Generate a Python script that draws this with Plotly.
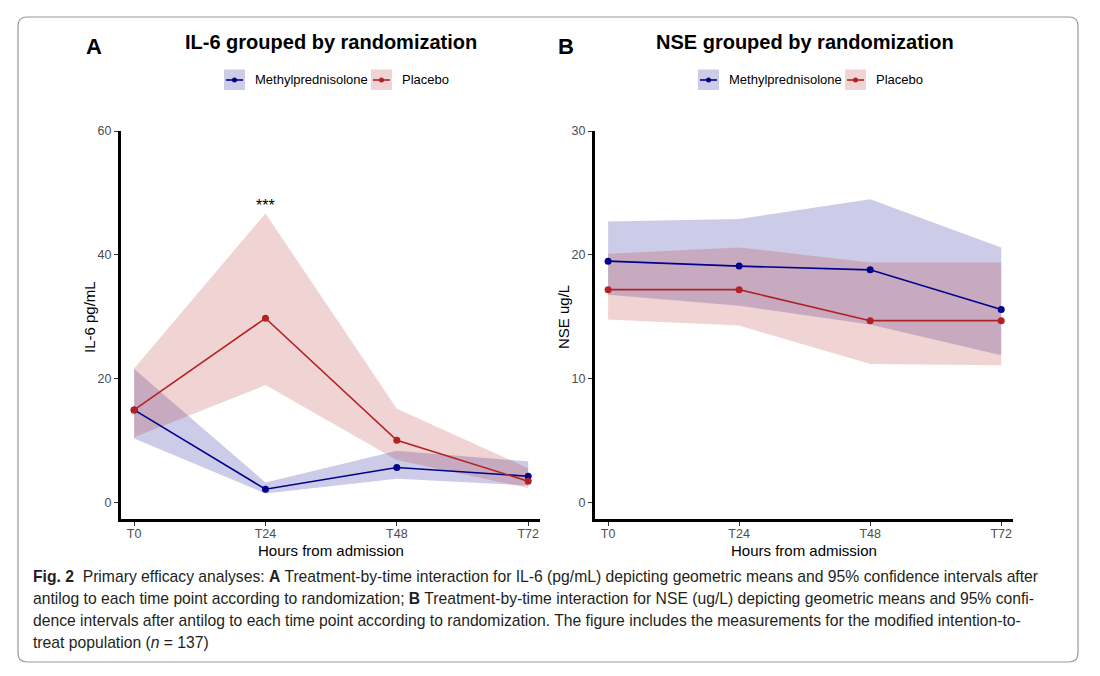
import plotly.graph_objects as go

W, H = 1100, 676

# time points
times = ["T0", "T24", "T48", "T72"]

# IL-6 (pg/mL) geometric means and 95% CI
il6_mp = [15.0, 2.2, 5.7, 4.3]
il6_mp_lo = [10.4, 1.5, 3.9, 2.8]
il6_mp_hi = [21.6, 3.3, 8.4, 6.7]
il6_pl = [15.0, 29.8, 10.1, 3.5]
il6_pl_lo = [10.6, 19.0, 6.9, 2.4]
il6_pl_hi = [21.7, 46.7, 15.2, 5.6]

# NSE (ug/L) geometric means and 95% CI
nse_mp = [19.5, 19.1, 18.8, 15.6]
nse_mp_lo = [16.8, 15.9, 14.4, 11.9]
nse_mp_hi = [22.7, 22.9, 24.5, 20.6]
nse_pl = [17.2, 17.2, 14.7, 14.7]
nse_pl_lo = [14.8, 14.3, 11.2, 11.1]
nse_pl_hi = [20.1, 20.6, 19.4, 19.4]

groups = ["Methylprednisolone", "Placebo"]
line_cols = ["#00008B", "#B22222"]
fill_cols = ["rgba(0,0,139,0.2)", "rgba(178,34,34,0.2)"]

FONT = "Liberation Sans, Arial, sans-serif"


def px(x):
    return x / W


def py(y):
    return 1 - y / H


fig = go.Figure()


def add_panel(fig, xa, ya, series):
    # ribbons first, then lines on top
    for (mean, lo, hi), fc in zip(series, fill_cols):
        fig.add_trace(go.Scatter(
            x=times + times[::-1], y=hi + lo[::-1], fill="toself",
            fillcolor=fc, line=dict(width=0), mode="lines",
            hoverinfo="skip", showlegend=False, xaxis=xa, yaxis=ya))
    for (mean, lo, hi), lc, name in zip(series, line_cols, groups):
        fig.add_trace(go.Scatter(
            x=times, y=mean, mode="lines+markers", name=name,
            line=dict(color=lc, width=1.6), marker=dict(color=lc, size=7),
            showlegend=False, xaxis=xa, yaxis=ya))


add_panel(fig, "x", "y", [(il6_mp, il6_mp_lo, il6_mp_hi), (il6_pl, il6_pl_lo, il6_pl_hi)])
add_panel(fig, "x2", "y2", [(nse_mp, nse_mp_lo, nse_mp_hi), (nse_pl, nse_pl_lo, nse_pl_hi)])

# "***" over T24 in panel A
fig.add_annotation(x="T24", y=il6_pl_hi[1], xref="x", yref="y", text="***",
                   showarrow=False, xanchor="center", yanchor="bottom", yshift=-3,
                   font=dict(family=FONT, size=16, color="black"))

axis_common = dict(showline=True, linecolor="black", linewidth=3, ticks="outside",
                   ticklen=4, tickcolor="#333333", tickwidth=1, showgrid=False,
                   zeroline=False, automargin=False,
                   tickfont=dict(family=FONT, size=12.5, color="#4D4D4D"))

panels = [
    dict(x0=121, x1=540, ytitle="IL-6 pg/mL", ytx=89, yrange=[-2.6, 60], ytick=20),
    dict(x0=595, x1=1013, ytitle="NSE ug/L", ytx=563, yrange=[-1.3, 30], ytick=10),
]
top, bottom = 131, 519

for i, p in enumerate(panels):
    sfx = "" if i == 0 else str(i + 1)
    fig.update_layout(**{
        "xaxis" + sfx: dict(axis_common, domain=[px(p["x0"]), px(p["x1"])],
                            anchor="y" + sfx, range=[-0.1, 3.09], ticklabelstandoff=-3),
        "yaxis" + sfx: dict(axis_common, domain=[py(bottom), py(top)],
                            anchor="x" + sfx, range=p["yrange"], dtick=p["ytick"]),
    })
    # axis titles
    fig.add_annotation(x=px((p["x0"] + p["x1"]) / 2), y=py(550), xref="paper", yref="paper",
                       text="Hours from admission", showarrow=False,
                       xanchor="center", yanchor="middle",
                       font=dict(family=FONT, size=15, color="black"))
    fig.add_annotation(x=px(p["ytx"]), y=py(317), xref="paper", yref="paper",
                       text=p["ytitle"], textangle=-90, showarrow=False,
                       xanchor="center", yanchor="middle",
                       font=dict(family=FONT, size=15, color="black"))

# titles, panel letters and legends
titles = [("A", 94, "IL-6 grouped by randomization", 331),
          ("B", 566, "NSE grouped by randomization", 805)]
for letter, lx, title, tx in titles:
    fig.add_annotation(x=px(lx), y=py(46), xref="paper", yref="paper", text="<b>%s</b>" % letter,
                       showarrow=False, xanchor="center", yanchor="middle",
                       font=dict(family=FONT, size=22, color="black"))
    fig.add_annotation(x=px(tx), y=py(42), xref="paper", yref="paper", text="<b>%s</b>" % title,
                       showarrow=False, xanchor="center", yanchor="middle",
                       font=dict(family=FONT, size=20, color="black"))

shapes = []
for off in [0, 474]:
    keys = [(224 + off, 253 + off), (371 + off, 400 + off)]
    for (kx, tx), lc, fc, name in zip(keys, line_cols, fill_cols, groups):
        shapes.append(dict(type="rect", xref="paper", yref="paper",
                           x0=px(kx), x1=px(kx + 21), y0=py(90), y1=py(69.5),
                           fillcolor=fc, line=dict(width=0)))
        shapes.append(dict(type="line", xref="paper", yref="paper",
                           x0=px(kx + 2), x1=px(kx + 19), y0=py(80), y1=py(80),
                           line=dict(color=lc, width=1.6)))
        shapes.append(dict(type="circle", xref="paper", yref="paper",
                           x0=px(kx + 8), x1=px(kx + 13), y0=py(82.5), y1=py(77.5),
                           fillcolor=lc, line=dict(width=0)))
        fig.add_annotation(x=px(tx), y=py(80), xref="paper", yref="paper", text=name,
                           xanchor="left", yanchor="middle", showarrow=False,
                           font=dict(family=FONT, size=13, color="black"))

# rounded frame around the figure
x0, x1, y0, y1, r = 18, 1078, 17, 662, 9
path = ("M {a},{b} L {c},{b} Q {d},{b} {d},{e} L {d},{f} Q {d},{g} {c},{g} "
        "L {a},{g} Q {h},{g} {h},{f} L {h},{e} Q {h},{b} {a},{b} Z").format(
    a=px(x0 + r), b=py(y0), c=px(x1 - r), d=px(x1), e=py(y0 + r),
    f=py(y1 - r), g=py(y1), h=px(x0))
shapes.append(dict(type="path", xref="paper", yref="paper", path=path,
                   line=dict(color="#9A9A9A", width=1.2)))

# caption
caption = [
    "<b>Fig. 2</b>  Primary efficacy analyses: <b>A</b> Treatment-by-time interaction for IL-6 (pg/mL) "
    "depicting geometric means and 95% confidence intervals after",
    "antilog to each time point according to randomization; <b>B</b> Treatment-by-time interaction "
    "for NSE (ug/L) depicting geometric means and 95% confi-",
    "dence intervals after antilog to each time point according to randomization. The figure "
    "includes the measurements for the modified intention-to-",
    "treat population (<i>n</i> = 137)",
]
for i, line in enumerate(caption):
    fig.add_annotation(x=px(31), y=py(576 + 22 * i), xref="paper", yref="paper", text=line,
                       xanchor="left", yanchor="middle", showarrow=False, align="left",
                       font=dict(family=FONT, size=15.7, color="#231F20"))

fig.update_layout(width=W, height=H,
                  margin=dict(l=0, r=0, t=0, b=0, pad=0, autoexpand=False),
                  plot_bgcolor="white", paper_bgcolor="white", shapes=shapes,
                  showlegend=False, font=dict(family=FONT))

page_css = ("document.documentElement.style.margin='0';"
            "document.documentElement.style.overflow='hidden';"
            "document.body.style.margin='0';"
            "document.body.style.overflow='hidden';")
fig.write_html("out.html", config={"displayModeBar": False}, post_script=page_css)
